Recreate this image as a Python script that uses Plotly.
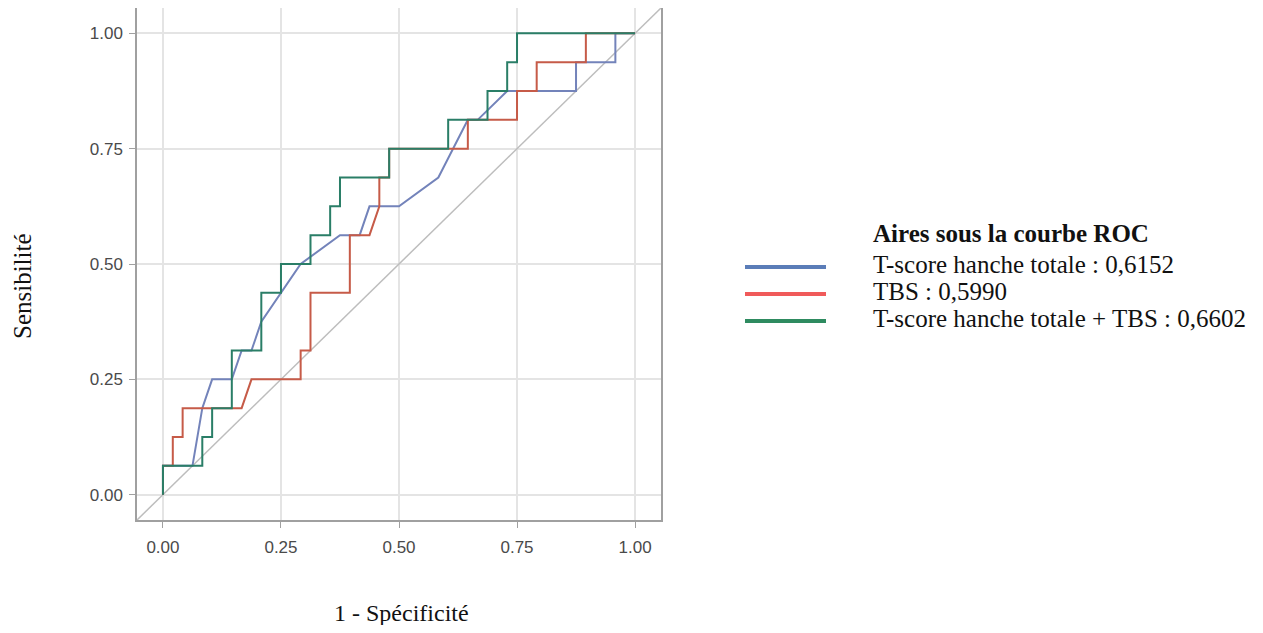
import plotly.graph_objects as go

# page offset (body margin) compensation
OFF = 8
W, H = 1263 - 2 * OFF, 633 - 2 * OFF

# Data (1 - specificity with 48 negatives, sensitivity with 16 positives)
fpr_tscore = [0, 0, 3/48, 4/48, 5/48, 7/48, 8/48, 9/48, 10/48, 12/48, 14/48, 18/48, 20/48, 21/48,
              24/48, 28/48, 31/48, 32/48, 35/48, 42/48, 42/48, 46/48, 46/48, 1]
tpr_tscore = [0, 0.0625, 0.0625, 0.1875, 0.25, 0.25, 0.3125, 0.3125, 0.375, 0.4375, 0.5, 0.5625, 0.5625, 0.625,
              0.625, 0.6875, 0.8125, 0.8125, 0.875, 0.875, 0.9375, 0.9375, 1, 1]

fpr_tbs = [0, 0, 1/48, 1/48, 2/48, 2/48, 8/48, 9/48, 14/48, 14/48, 15/48, 15/48, 19/48, 19/48, 21/48, 22/48,
           22/48, 23/48, 23/48, 31/48, 31/48, 36/48, 36/48, 38/48, 38/48, 43/48, 43/48, 1]
tpr_tbs = [0, 0.0625, 0.0625, 0.125, 0.125, 0.1875, 0.1875, 0.25, 0.25, 0.3125, 0.3125, 0.4375, 0.4375, 0.5625,
           0.5625, 0.625, 0.6875, 0.6875, 0.75, 0.75, 0.8125, 0.8125, 0.875, 0.875, 0.9375, 0.9375, 1, 1]

fpr_comb = [0, 0, 4/48, 4/48, 5/48, 5/48, 7/48, 7/48, 10/48, 10/48, 12/48, 12/48, 15/48, 15/48, 17/48, 17/48,
            18/48, 18/48, 23/48, 23/48, 29/48, 29/48, 33/48, 33/48, 35/48, 35/48, 36/48, 36/48, 1]
tpr_comb = [0, 0.0625, 0.0625, 0.125, 0.125, 0.1875, 0.1875, 0.3125, 0.3125, 0.4375, 0.4375, 0.5, 0.5, 0.5625,
            0.5625, 0.625, 0.625, 0.6875, 0.6875, 0.75, 0.75, 0.8125, 0.8125, 0.875, 0.875, 0.9375, 0.9375, 1, 1]

axis_range = [-0.055, 1.055]
tick_vals = [0, 0.25, 0.5, 0.75, 1.0]
tick_text = ["0.00", "0.25", "0.50", "0.75", "1.00"]

legend_title = "Aires sous la courbe ROC"
legend_labels = ["T-score hanche totale : 0,6152", "TBS : 0,5990", "T-score hanche totale + TBS : 0,6602"]
curve_colors = ["#7383BA", "#C65B48", "#2A7E67"]
legend_colors = ["#5B7DB8", "#F05A5A", "#2E8B60"]


def px(x):
    return (x - OFF) / W


def py(y):
    return 1 - (y - OFF) / H


fig = go.Figure()
fig.add_trace(go.Scatter(x=axis_range, y=axis_range, mode="lines",
                         line=dict(color="#BDBDBD", width=1.5), hoverinfo="skip", showlegend=False))
series = [(fpr_tscore, tpr_tscore), (fpr_tbs, tpr_tbs), (fpr_comb, tpr_comb)]
for (xs, ys), col, name in zip(series, curve_colors, legend_labels):
    fig.add_trace(go.Scatter(x=xs, y=ys, mode="lines", name=name,
                             line=dict(color=col, width=2), showlegend=False))

axis_common = dict(range=axis_range, tickvals=tick_vals, ticktext=tick_text,
                   showgrid=True, gridcolor="#E4E4E4", gridwidth=1.5,
                   zeroline=False, showline=True, linecolor="#A0A0A0", linewidth=1.5, mirror=True,
                   ticks="outside", ticklen=6, tickcolor="#A0A0A0", tickwidth=1.2,
                   tickfont=dict(family="Liberation Sans, Arial", size=17, color="#4A4A4A"),
                   automargin=False, fixedrange=True)

fig.update_layout(
    width=W, height=H,
    margin=dict(l=0, r=0, t=0, b=0),
    paper_bgcolor="white", plot_bgcolor="white",
    xaxis=dict(domain=[px(137), px(661)], ticklabelstandoff=5, **axis_common),
    yaxis=dict(domain=[py(520), py(8)], ticklabelstandoff=3, **axis_common),
    showlegend=False,
)

serif = "Liberation Serif, Times New Roman, serif"
annotations = [
    dict(text="1 - Spécificité", x=px(401), y=py(613), xref="paper", yref="paper",
         showarrow=False, xanchor="center", yanchor="middle",
         font=dict(family=serif, size=24, color="#111111")),
    dict(text="Sensibilité", x=px(22), y=py(286), xref="paper", yref="paper", textangle=-90,
         showarrow=False, xanchor="center", yanchor="middle",
         font=dict(family=serif, size=25, color="#111111")),
    dict(text="<b>" + legend_title + "</b>", x=px(871), y=py(234), xref="paper", yref="paper",
         showarrow=False, xanchor="left", yanchor="middle",
         font=dict(family=serif, size=25, color="#111111")),
]
legend_y = [264, 291, 318]
shapes = []
for lab, col, yy in zip(legend_labels, legend_colors, legend_y):
    annotations.append(dict(text=lab, x=px(871), y=py(yy), xref="paper", yref="paper",
                            showarrow=False, xanchor="left", yanchor="middle",
                            font=dict(family=serif, size=25, color="#111111")))
    shapes.append(dict(type="line", xref="paper", yref="paper",
                       x0=px(745), x1=px(826), y0=py(yy + 3), y1=py(yy + 3),
                       line=dict(color=col, width=4)))
fig.update_layout(annotations=annotations, shapes=shapes)

fig.write_html("out.html")
